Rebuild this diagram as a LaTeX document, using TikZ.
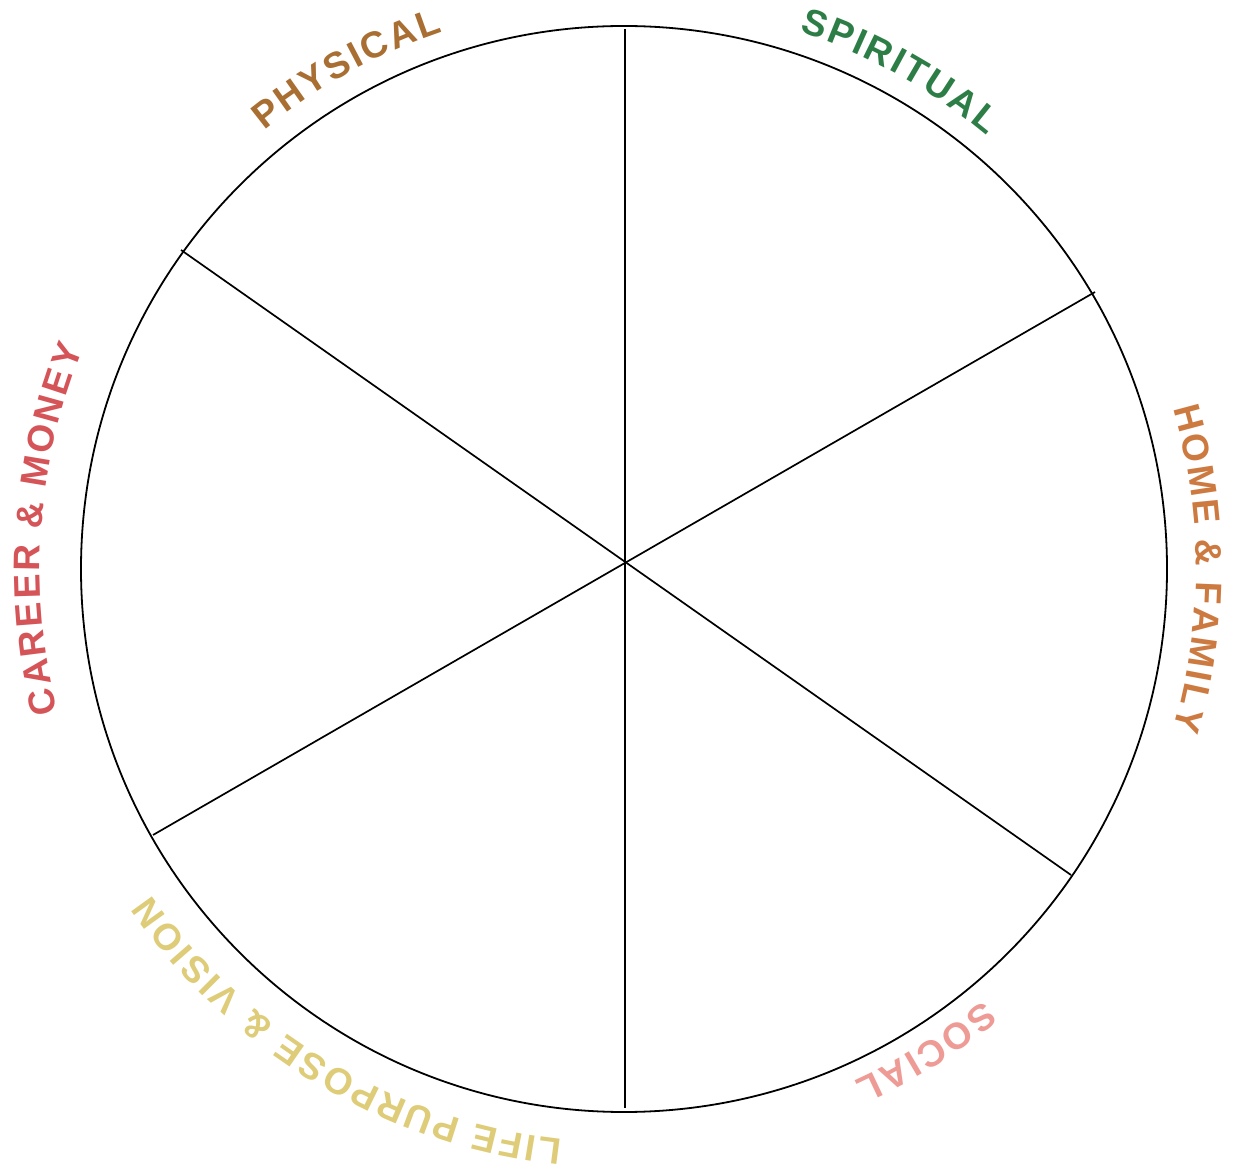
\documentclass[tikz,border=0pt]{standalone}
\usepackage{fontspec}
\usetikzlibrary{decorations.text}
\newfontfamily\lblfont{Liberation Sans}
\newcommand\tk{\kern2.5pt}
\newcommand\wsp{\kern15pt}
\definecolor{cphys}{RGB}{168,110,50}
\definecolor{cspir}{RGB}{45,125,70}
\definecolor{chome}{RGB}{205,122,65}
\definecolor{csoc}{RGB}{238,155,150}
\definecolor{clife}{RGB}{222,204,120}
\definecolor{ccar}{RGB}{213,84,88}
\tikzset{
  wheel/.style={line width=1.8pt, black},
  spoke/.style={line width=1.7pt, black},
  lbl/.style 2 args={decorate, decoration={text along path, text align=center,
      text color=#1, text={|\lblfont\bfseries\fontsize{37pt}{37pt}\selectfont|#2}}}
}
\begin{document}
\begin{tikzpicture}[x=1pt,y=1pt]
\useasboundingbox (0,0) rectangle (1238,1173);
\coordinate (O) at (624,604);
\coordinate (A) at (625,1144);
\coordinate (B) at (625,65);
\coordinate (C) at (181,923);
\coordinate (D) at (1071,298);
\coordinate (E) at (1095,881);
\coordinate (F) at (153,338);
\draw[wheel] (O) circle[radius=543];
\draw[spoke] (A) -- (B);
\draw[spoke] (C) -- (D);
\draw[spoke] (E) -- (F);
% labels (clockwise arcs, tops outward)
\path[lbl={cphys}{P{\tk}H{\tk}Y{\tk}S{\tk}I{\tk}C{\tk}A{\tk}L}]
  (O) ++(169:567) arc[start angle=169, end angle=69, radius=567];
\path[lbl={cspir}{S{\tk}P{\tk}I{\tk}R{\tk}I{\tk}T{\tk}U{\tk}A{\tk}L}]
  (O) ++(111:565) arc[start angle=111, end angle=11, radius=565];
\path[lbl={chome}{H{\tk}O{\tk}M{\tk}E{\wsp}{\&}{\wsp}F{\tk}A{\tk}M{\tk}I{\tk}L{\tk}Y}]
  (O) ++(50:572) arc[start angle=50, end angle=-50, radius=572];
\path[lbl={csoc}{S{\tk}O{\tk}C{\tk}I{\tk}A{\tk}L}]
  (O) ++(-8:561) arc[start angle=-8, end angle=-108, radius=561];
\path[lbl={clife}{L{\tk}I{\tk}F{\tk}E{\wsp}P{\tk}U{\tk}R{\tk}P{\tk}O{\tk}S{\tk}E{\wsp}{\&}{\wsp}V{\tk}I{\tk}S{\tk}I{\tk}O{\tk}N}]
  (O) ++(-60.8:574) arc[start angle=-60.8, end angle=-180.8, radius=574];
\path[lbl={ccar}{C{\tk}A{\tk}R{\tk}E{\tk}E{\tk}R{\wsp}{\&}{\wsp}M{\tk}O{\tk}N{\tk}E{\tk}Y}]
  (O) ++(226:584) arc[start angle=226, end angle=126, radius=584];
\end{tikzpicture}
\end{document}
